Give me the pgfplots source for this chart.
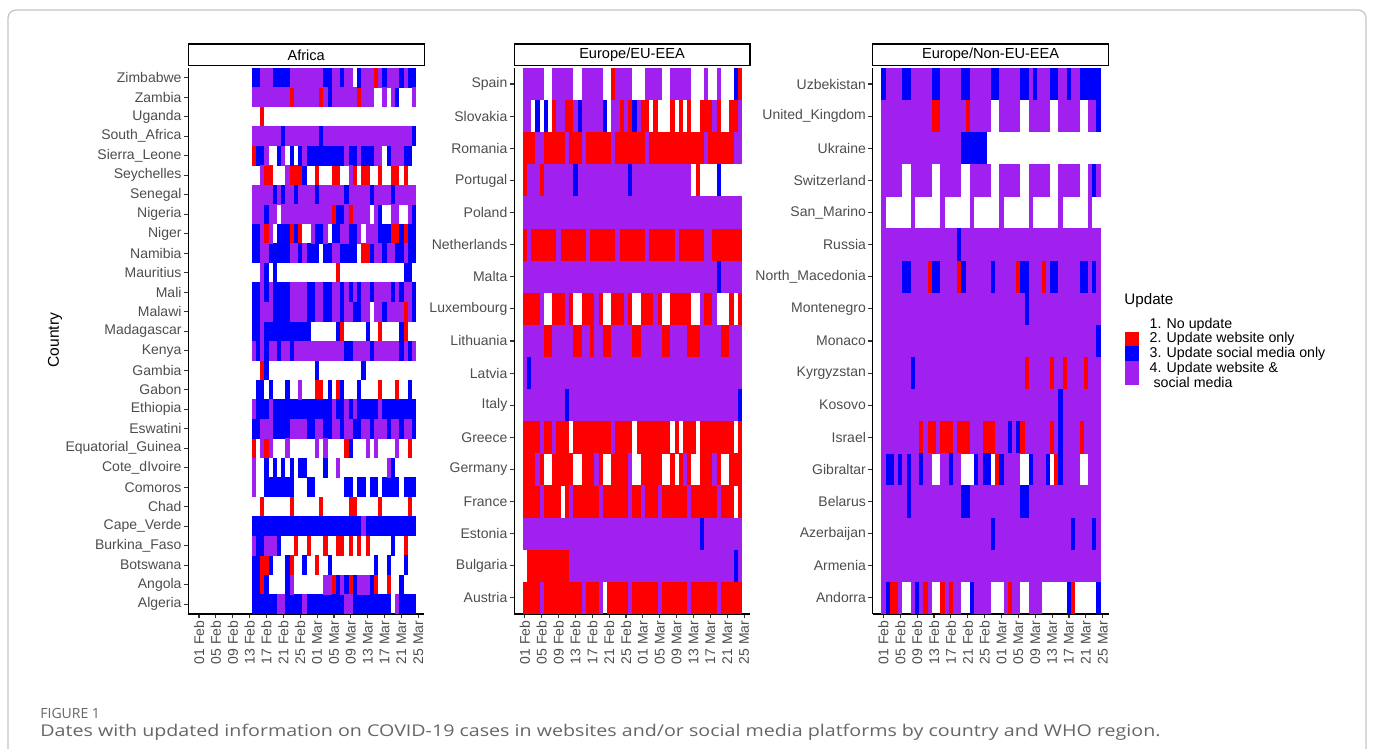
\documentclass[border=0pt]{standalone}
\usepackage{pgfplots}
\pgfplotsset{compat=1.18}
\usepackage{graphicx}
\usepackage{fontspec}
\setmainfont{Liberation Sans}
\newfontfamily\capfont{Open Sans}
\definecolor{cR}{HTML}{FF0000}
\definecolor{cB}{HTML}{0000FF}
\definecolor{cP}{HTML}{A020F0}
\definecolor{tickgray}{HTML}{4D4D4D}
\definecolor{capgray}{HTML}{666666}
\definecolor{framegray}{HTML}{C4C4C4}
\def\wA{9.9pt}
\def\wE{16.2pt}
\pgfplotsset{
  heat/.style={
    scale only axis, width=117.95pt, height=273pt,
    xmin=-2.04, xmax=53.9, ymin=0.5,
    axis x line*=bottom, axis y line*=left,
    axis line style={black, line width=0.6pt},
    xtick={0.5,4.5,...,52.5},
    xticklabels={01 Feb,05 Feb,09 Feb,13 Feb,17 Feb,21 Feb,25 Feb,01 Mar,05 Mar,09 Mar,13 Mar,17 Mar,21 Mar,25 Mar},
    x tick label style={rotate=90, anchor=east, font=\fontsize{7}{8}\selectfont, text=tickgray, inner sep=1pt},
    y tick label style={font=\fontsize{7}{8}\selectfont, text=tickgray, inner sep=1pt},
    tick align=outside, major tick length=2.2pt,
    tick style={line width=0.55pt, color=black!80},
    unbounded coords=jump,
    every axis plot/.append style={mark=none},
  },
}
\begin{document}
\begin{tikzpicture}
\useasboundingbox (0,0) rectangle (687.5pt,374.5pt);
\draw[framegray, line width=0.6pt, rounded corners=4pt] (4pt,-20pt) rectangle (683pt,369.5pt);

% ---------------- Africa ----------------
\begin{axis}[heat, at={(94.15pt,67.5pt)}, anchor=south west, ymax=28.5,
  ytick={1,...,28},
  yticklabels={Algeria,Angola,Botswana,Burkina\_Faso,Cape\_Verde,Chad,Comoros,Cote\_dIvoire,Equatorial\_Guinea,Eswatini,Ethiopia,Gabon,Gambia,Kenya,Madagascar,Malawi,Mali,Mauritius,Namibia,Niger,Nigeria,Senegal,Seychelles,Sierra\_Leone,South\_Africa,Uganda,Zambia,Zimbabwe}]
\addplot[cR, line width=\wA] coordinates {
(42,28)(43,28)(nan,nan)
(22,27)(23,27)(nan,nan)(29,27)(30,27)(nan,nan)(38,27)(39,27)(nan,nan)
(15,26)(16,26)(nan,nan)
(13,24)(14,24)(nan,nan)
(16,23)(18,23)(nan,nan)(22,23)(25,23)(nan,nan)(28,23)(29,23)(nan,nan)(32,23)(34,23)(nan,nan)(37,23)(38,23)(nan,nan)(39,23)(41,23)(nan,nan)(43,23)(44,23)(nan,nan)(46,23)(48,23)(nan,nan)(49,23)(50,23)(nan,nan)
(32,21)(33,21)(nan,nan)(36,21)(37,21)(nan,nan)
(16,20)(17,20)(nan,nan)(22,20)(23,20)(nan,nan)(24,20)(25,20)(nan,nan)(46,20)(48,20)(nan,nan)(49,20)(50,20)(nan,nan)
(39,19)(41,19)(nan,nan)
(33,18)(34,18)(nan,nan)
(49,16)(50,16)(nan,nan)
(34,15)(35,15)(nan,nan)(43,15)(44,15)(nan,nan)(49,15)(50,15)(nan,nan)
(15,13)(16,13)(nan,nan)
(28,12)(30,12)(nan,nan)(33,12)(34,12)(nan,nan)(43,12)(44,12)(nan,nan)(47,12)(48,12)(nan,nan)
(13,9)(14,9)(nan,nan)(16,9)(17,9)(nan,nan)(35,9)(36,9)(nan,nan)(50,9)(51,9)(nan,nan)
(15,6)(16,6)(nan,nan)(22,6)(23,6)(nan,nan)(29,6)(30,6)(nan,nan)(36,6)(38,6)(nan,nan)(43,6)(44,6)(nan,nan)(50,6)(51,6)(nan,nan)
(23,4)(24,4)(nan,nan)(26,4)(27,4)(nan,nan)(30,4)(31,4)(nan,nan)(33,4)(35,4)(nan,nan)(36,4)(37,4)(nan,nan)(38,4)(39,4)(nan,nan)(40,4)(41,4)(nan,nan)(49,4)(50,4)(nan,nan)
(15,3)(17,3)(nan,nan)(22,3)(23,3)(nan,nan)(28,3)(29,3)(nan,nan)
(15,2)(16,2)(nan,nan)(32,2)(33,2)(nan,nan)(36,2)(37,2)(nan,nan)(42,2)(43,2)(nan,nan)(45,2)(46,2)(nan,nan)
};
\addplot[cB, line width=\wA] coordinates {
(13,28)(15,28)(nan,nan)(18,28)(22,28)(nan,nan)(30,28)(32,28)(nan,nan)(34,28)(35,28)(nan,nan)(38,28)(39,28)(nan,nan)(44,28)(45,28)(nan,nan)(48,28)(49,28)(nan,nan)(50,28)(52,28)(nan,nan)
(31,27)(32,27)(nan,nan)(47,27)(48,27)(nan,nan)
(20,25)(21,25)(nan,nan)(29,25)(30,25)(nan,nan)(51,25)(52,25)(nan,nan)
(14,24)(16,24)(nan,nan)(19,24)(20,24)(nan,nan)(22,24)(23,24)(nan,nan)(24,24)(25,24)(nan,nan)(26,24)(35,24)(nan,nan)(36,24)(38,24)(nan,nan)(39,24)(42,24)(nan,nan)(45,24)(46,24)(nan,nan)(49,24)(51,24)(nan,nan)
(25,23)(26,23)(nan,nan)
(18,22)(19,22)(nan,nan)(20,22)(21,22)(nan,nan)(23,22)(24,22)(nan,nan)(28,22)(29,22)(nan,nan)(35,22)(36,22)(nan,nan)(41,22)(42,22)(nan,nan)(46,22)(47,22)(nan,nan)
(16,21)(17,21)(nan,nan)(33,21)(35,21)(nan,nan)(43,21)(44,21)(nan,nan)(51,21)(52,21)(nan,nan)
(13,20)(15,20)(nan,nan)(19,20)(22,20)(nan,nan)(23,20)(24,20)(nan,nan)(28,20)(30,20)(nan,nan)(32,20)(34,20)(nan,nan)(36,20)(38,20)(nan,nan)(43,20)(46,20)(nan,nan)(48,20)(49,20)(nan,nan)(50,20)(52,20)(nan,nan)
(13,19)(15,19)(nan,nan)(17,19)(22,19)(nan,nan)(24,19)(25,19)(nan,nan)(26,19)(29,19)(nan,nan)(30,19)(32,19)(nan,nan)(34,19)(38,19)(nan,nan)(41,19)(42,19)(nan,nan)(44,19)(45,19)(nan,nan)(47,19)(49,19)(nan,nan)(50,19)(52,19)(nan,nan)
(16,18)(17,18)(nan,nan)(18,18)(19,18)(nan,nan)(49,18)(51,18)(nan,nan)
(13,17)(15,17)(nan,nan)(16,17)(17,17)(nan,nan)(18,17)(22,17)(nan,nan)(26,17)(28,17)(nan,nan)(30,17)(32,17)(nan,nan)(34,17)(35,17)(nan,nan)(36,17)(37,17)(nan,nan)(38,17)(39,17)(nan,nan)(41,17)(42,17)(nan,nan)(46,17)(47,17)(nan,nan)(48,17)(49,17)(nan,nan)(51,17)(52,17)(nan,nan)
(13,16)(15,16)(nan,nan)(18,16)(22,16)(nan,nan)(26,16)(28,16)(nan,nan)(30,16)(32,16)(nan,nan)(34,16)(35,16)(nan,nan)(37,16)(39,16)(nan,nan)(44,16)(45,16)(nan,nan)(51,16)(52,16)(nan,nan)
(13,15)(15,15)(nan,nan)(16,15)(27,15)(nan,nan)(33,15)(34,15)(nan,nan)(40,15)(41,15)(nan,nan)(48,15)(49,15)(nan,nan)
(14,14)(15,14)(nan,nan)(16,14)(17,14)(nan,nan)(19,14)(20,14)(nan,nan)(22,14)(23,14)(nan,nan)(35,14)(37,14)(nan,nan)(41,14)(42,14)(nan,nan)(48,14)(49,14)(nan,nan)(50,14)(51,14)(nan,nan)
(16,13)(17,13)(nan,nan)(28,13)(29,13)(nan,nan)(39,13)(40,13)(nan,nan)
(14,12)(16,12)(nan,nan)(17,12)(18,12)(nan,nan)(21,12)(22,12)(nan,nan)(31,12)(32,12)(nan,nan)(34,12)(35,12)(nan,nan)(38,12)(39,12)(nan,nan)(50,12)(51,12)(nan,nan)
(14,11)(17,11)(nan,nan)(18,11)(32,11)(nan,nan)(33,11)(35,11)(nan,nan)(36,11)(37,11)(nan,nan)(38,11)(43,11)(nan,nan)(44,11)(52,11)(nan,nan)
(13,10)(15,10)(nan,nan)(18,10)(22,10)(nan,nan)(26,10)(28,10)(nan,nan)(30,10)(32,10)(nan,nan)(34,10)(35,10)(nan,nan)(37,10)(39,10)(nan,nan)(41,10)(42,10)(nan,nan)(45,10)(46,10)(nan,nan)(48,10)(49,10)(nan,nan)(51,10)(52,10)(nan,nan)
(36,9)(37,9)(nan,nan)
(16,8)(17,8)(nan,nan)(18,8)(19,8)(nan,nan)(20,8)(21,8)(nan,nan)(22,8)(23,8)(nan,nan)(24,8)(26,8)(nan,nan)(30,8)(31,8)(nan,nan)(46,8)(47,8)(nan,nan)
(16,7)(23,7)(nan,nan)(26,7)(28,7)(nan,nan)(35,7)(37,7)(nan,nan)(38,7)(40,7)(nan,nan)(41,7)(43,7)(nan,nan)(44,7)(48,7)(nan,nan)(49,7)(52,7)(nan,nan)
(13,5)(39,5)(nan,nan)(40,5)(52,5)(nan,nan)
(14,4)(16,4)(nan,nan)(19,4)(20,4)(nan,nan)(46,4)(47,4)(nan,nan)
(13,3)(15,3)(nan,nan)(17,3)(18,3)(nan,nan)(21,3)(22,3)(nan,nan)(25,3)(26,3)(nan,nan)(31,3)(32,3)(nan,nan)(42,3)(43,3)(nan,nan)(45,3)(46,3)(nan,nan)(49,3)(50,3)(nan,nan)
(13,2)(15,2)(nan,nan)(16,2)(17,2)(nan,nan)(21,2)(22,2)(nan,nan)(33,2)(34,2)(nan,nan)(35,2)(36,2)(nan,nan)(37,2)(38,2)(nan,nan)(41,2)(42,2)(nan,nan)(48,2)(49,2)(nan,nan)
(13,1)(19,1)(nan,nan)(21,1)(25,1)(nan,nan)(26,1)(35,1)(nan,nan)(37,1)(46,1)(nan,nan)(48,1)(52,1)(nan,nan)
};
\addplot[cP, line width=\wA] coordinates {
(15,28)(18,28)(nan,nan)(22,28)(30,28)(nan,nan)(32,28)(34,28)(nan,nan)(35,28)(37,28)(nan,nan)(39,28)(42,28)(nan,nan)(43,28)(44,28)(nan,nan)(45,28)(48,28)(nan,nan)(49,28)(50,28)(nan,nan)
(13,27)(22,27)(nan,nan)(23,27)(29,27)(nan,nan)(30,27)(31,27)(nan,nan)(32,27)(38,27)(nan,nan)(39,27)(42,27)(nan,nan)(44,27)(45,27)(nan,nan)(46,27)(47,27)(nan,nan)(51,27)(52,27)(nan,nan)
(13,25)(20,25)(nan,nan)(21,25)(29,25)(nan,nan)(30,25)(51,25)(nan,nan)
(16,24)(17,24)(nan,nan)(20,24)(21,24)(nan,nan)(25,24)(26,24)(nan,nan)(35,24)(36,24)(nan,nan)(38,24)(39,24)(nan,nan)(42,24)(44,24)(nan,nan)(46,24)(49,24)(nan,nan)
(15,23)(16,23)(nan,nan)(21,23)(22,23)(nan,nan)(36,23)(37,23)(nan,nan)
(13,22)(18,22)(nan,nan)(19,22)(20,22)(nan,nan)(21,22)(23,22)(nan,nan)(24,22)(28,22)(nan,nan)(29,22)(35,22)(nan,nan)(36,22)(41,22)(nan,nan)(42,22)(46,22)(nan,nan)(47,22)(52,22)(nan,nan)
(13,21)(16,21)(nan,nan)(17,21)(19,21)(nan,nan)(20,21)(32,21)(nan,nan)(35,21)(36,21)(nan,nan)(37,21)(41,21)(nan,nan)(42,21)(43,21)(nan,nan)(46,21)(48,21)(nan,nan)(50,21)(51,21)(nan,nan)
(15,20)(16,20)(nan,nan)(17,20)(18,20)(nan,nan)(27,20)(28,20)(nan,nan)(30,20)(31,20)(nan,nan)(34,20)(36,20)(nan,nan)(38,20)(39,20)(nan,nan)(40,20)(43,20)(nan,nan)
(15,19)(17,19)(nan,nan)(22,19)(24,19)(nan,nan)(25,19)(26,19)(nan,nan)(32,19)(34,19)(nan,nan)(42,19)(44,19)(nan,nan)(45,19)(47,19)(nan,nan)(49,19)(50,19)(nan,nan)
(15,18)(16,18)(nan,nan)
(15,17)(16,17)(nan,nan)(17,17)(18,17)(nan,nan)(22,17)(26,17)(nan,nan)(28,17)(30,17)(nan,nan)(32,17)(34,17)(nan,nan)(35,17)(36,17)(nan,nan)(37,17)(38,17)(nan,nan)(39,17)(41,17)(nan,nan)(42,17)(46,17)(nan,nan)(47,17)(48,17)(nan,nan)(49,17)(51,17)(nan,nan)
(15,16)(18,16)(nan,nan)(22,16)(26,16)(nan,nan)(28,16)(30,16)(nan,nan)(32,16)(34,16)(nan,nan)(35,16)(37,16)(nan,nan)(39,16)(41,16)(nan,nan)(42,16)(44,16)(nan,nan)(45,16)(49,16)(nan,nan)(50,16)(51,16)(nan,nan)
(15,15)(16,15)(nan,nan)
(13,14)(14,14)(nan,nan)(15,14)(16,14)(nan,nan)(17,14)(19,14)(nan,nan)(20,14)(22,14)(nan,nan)(23,14)(35,14)(nan,nan)(37,14)(41,14)(nan,nan)(42,14)(48,14)(nan,nan)(49,14)(50,14)(nan,nan)(51,14)(52,14)(nan,nan)
(24,12)(25,12)(nan,nan)
(13,11)(14,11)(nan,nan)(17,11)(18,11)(nan,nan)(32,11)(33,11)(nan,nan)(35,11)(36,11)(nan,nan)(37,11)(38,11)(nan,nan)(43,11)(44,11)(nan,nan)
(15,10)(18,10)(nan,nan)(22,10)(26,10)(nan,nan)(28,10)(30,10)(nan,nan)(32,10)(34,10)(nan,nan)(35,10)(37,10)(nan,nan)(39,10)(41,10)(nan,nan)(42,10)(45,10)(nan,nan)(46,10)(48,10)(nan,nan)(49,10)(51,10)(nan,nan)
(15,9)(16,9)(nan,nan)(17,9)(18,9)(nan,nan)(21,9)(22,9)(nan,nan)(28,9)(29,9)(nan,nan)(30,9)(31,9)(nan,nan)(40,9)(41,9)(nan,nan)(42,9)(43,9)(nan,nan)(47,9)(48,9)(nan,nan)
(13,8)(14,8)(nan,nan)(33,8)(34,8)(nan,nan)(45,8)(46,8)(nan,nan)
(13,7)(14,7)(nan,nan)
(39,5)(40,5)(nan,nan)
(13,4)(14,4)(nan,nan)(16,4)(19,4)(nan,nan)
(22,2)(23,2)(nan,nan)(30,2)(32,2)(nan,nan)(34,2)(35,2)(nan,nan)(38,2)(41,2)(nan,nan)
(19,1)(21,1)(nan,nan)(25,1)(26,1)(nan,nan)(35,1)(37,1)(nan,nan)(47,1)(48,1)(nan,nan)
};
\end{axis}

% ---------------- Europe/EU-EEA ----------------
\begin{axis}[heat, at={(257.05pt,67.5pt)}, anchor=south west, ymax=17.5,
  ytick={1,...,17},
  yticklabels={Austria,Bulgaria,Estonia,France,Germany,Greece,Italy,Latvia,Lithuania,Luxembourg,Malta,Netherlands,Poland,Portugal,Romania,Slovakia,Spain}]
\addplot[cR, line width=\wE] coordinates {
(21,17)(22,17)(nan,nan)(51,17)(52,17)(nan,nan)
(7,16)(8,16)(nan,nan)(10,16)(12,16)(nan,nan)(23,16)(24,16)(nan,nan)(25,16)(26,16)(nan,nan)(28,16)(30,16)(nan,nan)(31,16)(32,16)(nan,nan)(35,16)(36,16)(nan,nan)(37,16)(38,16)(nan,nan)(39,16)(40,16)(nan,nan)(42,16)(45,16)(nan,nan)(46,16)(47,16)(nan,nan)(49,16)(51,16)(nan,nan)
(0,15)(3,15)(nan,nan)(5,15)(10,15)(nan,nan)(11,15)(14,15)(nan,nan)(15,15)(21,15)(nan,nan)(22,15)(29,15)(nan,nan)(30,15)(43,15)(nan,nan)(44,15)(50,15)(nan,nan)
(0,14)(1,14)(nan,nan)(4,14)(5,14)(nan,nan)(41,14)(42,14)(nan,nan)
(0,12)(1,12)(nan,nan)(2,12)(8,12)(nan,nan)(9,12)(15,12)(nan,nan)(16,12)(22,12)(nan,nan)(23,12)(29,12)(nan,nan)(30,12)(36,12)(nan,nan)(37,12)(43,12)(nan,nan)(45,12)(52,12)(nan,nan)
(0,10)(4,10)(nan,nan)(7,10)(10,10)(nan,nan)(11,10)(12,10)(nan,nan)(14,10)(17,10)(nan,nan)(18,10)(19,10)(nan,nan)(21,10)(24,10)(nan,nan)(25,10)(26,10)(nan,nan)(28,10)(31,10)(nan,nan)(32,10)(33,10)(nan,nan)(35,10)(40,10)(nan,nan)(43,10)(45,10)(nan,nan)(49,10)(50,10)(nan,nan)(51,10)(52,10)(nan,nan)
(5,9)(7,9)(nan,nan)(12,9)(14,9)(nan,nan)(16,9)(17,9)(nan,nan)(19,9)(21,9)(nan,nan)(26,9)(28,9)(nan,nan)(33,9)(35,9)(nan,nan)(39,9)(42,9)(nan,nan)(47,9)(49,9)(nan,nan)
(0,6)(4,6)(nan,nan)(5,6)(7,6)(nan,nan)(8,6)(11,6)(nan,nan)(12,6)(21,6)(nan,nan)(22,6)(26,6)(nan,nan)(27,6)(35,6)(nan,nan)(36,6)(37,6)(nan,nan)(38,6)(41,6)(nan,nan)(42,6)(50,6)(nan,nan)(51,6)(52,6)(nan,nan)
(0,5)(3,5)(nan,nan)(4,5)(5,5)(nan,nan)(7,5)(12,5)(nan,nan)(14,5)(17,5)(nan,nan)(18,5)(19,5)(nan,nan)(21,5)(25,5)(nan,nan)(28,5)(33,5)(nan,nan)(35,5)(36,5)(nan,nan)(37,5)(38,5)(nan,nan)(39,5)(40,5)(nan,nan)(42,5)(45,5)(nan,nan)(46,5)(47,5)(nan,nan)(49,5)(52,5)(nan,nan)
(0,4)(4,4)(nan,nan)(5,4)(9,4)(nan,nan)(10,4)(11,4)(nan,nan)(12,4)(18,4)(nan,nan)(19,4)(25,4)(nan,nan)(26,4)(28,4)(nan,nan)(29,4)(32,4)(nan,nan)(33,4)(39,4)(nan,nan)(40,4)(46,4)(nan,nan)(47,4)(50,4)(nan,nan)(51,4)(52,4)(nan,nan)
(1,2)(11,2)(nan,nan)
(0,1)(4,1)(nan,nan)(5,1)(14,1)(nan,nan)(15,1)(18,1)(nan,nan)(20,1)(25,1)(nan,nan)(26,1)(32,1)(nan,nan)(33,1)(39,1)(nan,nan)(40,1)(46,1)(nan,nan)(47,1)(52,1)(nan,nan)
};
\addplot[cB, line width=\wE] coordinates {
(50,17)(51,17)(nan,nan)
(3,16)(4,16)(nan,nan)(5,16)(6,16)(nan,nan)(13,16)(14,16)(nan,nan)(19,16)(20,16)(nan,nan)(26,16)(27,16)(nan,nan)
(12,14)(13,14)(nan,nan)(25,14)(26,14)(nan,nan)(46,14)(47,14)(nan,nan)
(46,11)(47,11)(nan,nan)
(1,8)(2,8)(nan,nan)
(10,7)(11,7)(nan,nan)(51,7)(52,7)(nan,nan)
(42,3)(43,3)(nan,nan)
(50,2)(51,2)(nan,nan)
};
\addplot[cP, line width=\wE] coordinates {
(0,17)(5,17)(nan,nan)(7,17)(12,17)(nan,nan)(14,17)(19,17)(nan,nan)(22,17)(26,17)(nan,nan)(29,17)(33,17)(nan,nan)(35,17)(40,17)(nan,nan)(43,17)(44,17)(nan,nan)(46,17)(47,17)(nan,nan)
(0,16)(2,16)(nan,nan)(8,16)(10,16)(nan,nan)(12,16)(13,16)(nan,nan)(14,16)(19,16)(nan,nan)(21,16)(23,16)(nan,nan)(24,16)(25,16)(nan,nan)(27,16)(28,16)(nan,nan)(45,16)(46,16)(nan,nan)(51,16)(52,16)(nan,nan)
(3,15)(5,15)(nan,nan)(10,15)(11,15)(nan,nan)(14,15)(15,15)(nan,nan)(21,15)(22,15)(nan,nan)(29,15)(30,15)(nan,nan)(43,15)(44,15)(nan,nan)(50,15)(52,15)(nan,nan)
(1,14)(4,14)(nan,nan)(5,14)(12,14)(nan,nan)(13,14)(25,14)(nan,nan)(26,14)(40,14)(nan,nan)
(0,13)(52,13)(nan,nan)
(1,12)(2,12)(nan,nan)(8,12)(9,12)(nan,nan)(15,12)(16,12)(nan,nan)(22,12)(23,12)(nan,nan)(29,12)(30,12)(nan,nan)(36,12)(37,12)(nan,nan)(43,12)(45,12)(nan,nan)
(0,11)(46,11)(nan,nan)(47,11)(52,11)(nan,nan)
(4,10)(5,10)(nan,nan)(10,10)(11,10)(nan,nan)(17,10)(18,10)(nan,nan)(24,10)(25,10)(nan,nan)(31,10)(32,10)(nan,nan)(42,10)(43,10)(nan,nan)(45,10)(46,10)(nan,nan)
(0,9)(5,9)(nan,nan)(7,9)(12,9)(nan,nan)(14,9)(16,9)(nan,nan)(17,9)(19,9)(nan,nan)(21,9)(26,9)(nan,nan)(28,9)(33,9)(nan,nan)(35,9)(39,9)(nan,nan)(42,9)(47,9)(nan,nan)(49,9)(52,9)(nan,nan)
(0,8)(1,8)(nan,nan)(2,8)(52,8)(nan,nan)
(0,7)(10,7)(nan,nan)(11,7)(51,7)(nan,nan)
(4,6)(5,6)(nan,nan)(7,6)(8,6)(nan,nan)(21,6)(22,6)(nan,nan)
(3,5)(4,5)(nan,nan)(17,5)(18,5)(nan,nan)(25,5)(26,5)(nan,nan)(38,5)(39,5)(nan,nan)(45,5)(46,5)(nan,nan)
(4,4)(5,4)(nan,nan)(11,4)(12,4)(nan,nan)(18,4)(19,4)(nan,nan)(25,4)(26,4)(nan,nan)(28,4)(29,4)(nan,nan)(32,4)(33,4)(nan,nan)(39,4)(40,4)(nan,nan)(46,4)(47,4)(nan,nan)
(0,3)(42,3)(nan,nan)(43,3)(52,3)(nan,nan)
(11,2)(50,2)(nan,nan)(51,2)(52,2)(nan,nan)
(4,1)(5,1)(nan,nan)(14,1)(15,1)(nan,nan)(18,1)(19,1)(nan,nan)(25,1)(26,1)(nan,nan)(32,1)(33,1)(nan,nan)(39,1)(40,1)(nan,nan)(46,1)(47,1)(nan,nan)
};
\end{axis}

% ---------------- Europe/Non-EU-EEA ----------------
\begin{axis}[heat, at={(436.35pt,67.5pt)}, anchor=south west, ymax=17.5,
  ytick={1,...,17},
  yticklabels={Andorra,Armenia,Azerbaijan,Belarus,Gibraltar,Israel,Kosovo,Kyrgyzstan,Monaco,Montenegro,North\_Macedonia,Russia,San\_Marino,Switzerland,Ukraine,United\_Kingdom,Uzbekistan}]
\addplot[cR, line width=\wE] coordinates {
(12,16)(14,16)(nan,nan)(20,16)(21,16)(nan,nan)
(11,11)(12,11)(nan,nan)(18,11)(19,11)(nan,nan)(32,11)(33,11)(nan,nan)(38,11)(39,11)(nan,nan)
(34,8)(35,8)(nan,nan)(40,8)(41,8)(nan,nan)(43,8)(44,8)(nan,nan)(48,8)(49,8)(nan,nan)
(9,6)(10,6)(nan,nan)(11,6)(13,6)(nan,nan)(14,6)(17,6)(nan,nan)(18,6)(21,6)(nan,nan)(24,6)(27,6)(nan,nan)(33,6)(34,6)(nan,nan)(40,6)(41,6)(nan,nan)(47,6)(48,6)(nan,nan)
(27,5)(28,5)(nan,nan)(41,5)(42,5)(nan,nan)
(2,1)(4,1)(nan,nan)(10,1)(11,1)(nan,nan)(14,1)(15,1)(nan,nan)(16,1)(17,1)(nan,nan)(30,1)(31,1)(nan,nan)(45,1)(46,1)(nan,nan)
};
\addplot[cB, line width=\wE] coordinates {
(0,17)(1,17)(nan,nan)(5,17)(7,17)(nan,nan)(12,17)(14,17)(nan,nan)(19,17)(21,17)(nan,nan)(26,17)(28,17)(nan,nan)(33,17)(35,17)(nan,nan)(36,17)(37,17)(nan,nan)(40,17)(42,17)(nan,nan)(44,17)(45,17)(nan,nan)(47,17)(52,17)(nan,nan)
(51,16)(52,16)(nan,nan)
(19,15)(25,15)(nan,nan)
(50,14)(51,14)(nan,nan)
(18,12)(19,12)(nan,nan)
(5,11)(7,11)(nan,nan)(12,11)(14,11)(nan,nan)(19,11)(20,11)(nan,nan)(26,11)(27,11)(nan,nan)(33,11)(35,11)(nan,nan)(40,11)(42,11)(nan,nan)(47,11)(49,11)(nan,nan)(50,11)(51,11)(nan,nan)
(34,10)(35,10)(nan,nan)
(51,9)(52,9)(nan,nan)
(7,8)(8,8)(nan,nan)
(42,7)(43,7)(nan,nan)
(30,6)(31,6)(nan,nan)(32,6)(33,6)(nan,nan)(42,6)(43,6)(nan,nan)
(1,5)(3,5)(nan,nan)(4,5)(5,5)(nan,nan)(6,5)(7,5)(nan,nan)(9,5)(10,5)(nan,nan)(16,5)(17,5)(nan,nan)(22,5)(23,5)(nan,nan)(24,5)(26,5)(nan,nan)(28,5)(29,5)(nan,nan)(35,5)(36,5)(nan,nan)(39,5)(40,5)(nan,nan)(42,5)(43,5)(nan,nan)
(6,4)(7,4)(nan,nan)(19,4)(21,4)(nan,nan)(33,4)(35,4)(nan,nan)
(26,3)(27,3)(nan,nan)(45,3)(46,3)(nan,nan)(50,3)(51,3)(nan,nan)
(1,1)(2,1)(nan,nan)(8,1)(9,1)(nan,nan)(21,1)(22,1)(nan,nan)(44,1)(45,1)(nan,nan)(51,1)(52,1)(nan,nan)
};
\addplot[cP, line width=\wE] coordinates {
(1,17)(5,17)(nan,nan)(7,17)(12,17)(nan,nan)(14,17)(19,17)(nan,nan)(21,17)(26,17)(nan,nan)(28,17)(33,17)(nan,nan)(35,17)(36,17)(nan,nan)(37,17)(40,17)(nan,nan)(42,17)(44,17)(nan,nan)(45,17)(47,17)(nan,nan)
(0,16)(12,16)(nan,nan)(14,16)(20,16)(nan,nan)(21,16)(26,16)(nan,nan)(28,16)(33,16)(nan,nan)(35,16)(40,16)(nan,nan)(42,16)(47,16)(nan,nan)(49,16)(51,16)(nan,nan)
(0,15)(19,15)(nan,nan)
(0,14)(5,14)(nan,nan)(7,14)(12,14)(nan,nan)(14,14)(19,14)(nan,nan)(21,14)(26,14)(nan,nan)(28,14)(33,14)(nan,nan)(35,14)(40,14)(nan,nan)(42,14)(47,14)(nan,nan)(49,14)(50,14)(nan,nan)(51,14)(52,14)(nan,nan)
(0,13)(1,13)(nan,nan)(7,13)(8,13)(nan,nan)(14,13)(15,13)(nan,nan)(21,13)(22,13)(nan,nan)(28,13)(29,13)(nan,nan)(35,13)(36,13)(nan,nan)(42,13)(43,13)(nan,nan)(49,13)(50,13)(nan,nan)
(0,12)(18,12)(nan,nan)(19,12)(52,12)(nan,nan)
(0,11)(5,11)(nan,nan)(7,11)(11,11)(nan,nan)(14,11)(18,11)(nan,nan)(20,11)(26,11)(nan,nan)(27,11)(32,11)(nan,nan)(35,11)(38,11)(nan,nan)(39,11)(40,11)(nan,nan)(42,11)(47,11)(nan,nan)(49,11)(50,11)(nan,nan)(51,11)(52,11)(nan,nan)
(0,10)(34,10)(nan,nan)(35,10)(52,10)(nan,nan)
(0,9)(51,9)(nan,nan)
(0,8)(7,8)(nan,nan)(8,8)(34,8)(nan,nan)(35,8)(40,8)(nan,nan)(41,8)(43,8)(nan,nan)(44,8)(48,8)(nan,nan)(49,8)(52,8)(nan,nan)
(0,7)(42,7)(nan,nan)(43,7)(52,7)(nan,nan)
(0,6)(9,6)(nan,nan)(10,6)(11,6)(nan,nan)(13,6)(14,6)(nan,nan)(17,6)(18,6)(nan,nan)(21,6)(24,6)(nan,nan)(27,6)(30,6)(nan,nan)(31,6)(32,6)(nan,nan)(34,6)(40,6)(nan,nan)(41,6)(42,6)(nan,nan)(43,6)(47,6)(nan,nan)(48,6)(52,6)(nan,nan)
(0,5)(1,5)(nan,nan)(3,5)(4,5)(nan,nan)(5,5)(6,5)(nan,nan)(7,5)(9,5)(nan,nan)(10,5)(12,5)(nan,nan)(14,5)(16,5)(nan,nan)(17,5)(19,5)(nan,nan)(23,5)(24,5)(nan,nan)(29,5)(33,5)(nan,nan)(36,5)(39,5)(nan,nan)(43,5)(47,5)(nan,nan)(49,5)(52,5)(nan,nan)
(0,4)(6,4)(nan,nan)(7,4)(19,4)(nan,nan)(21,4)(33,4)(nan,nan)(35,4)(52,4)(nan,nan)
(0,3)(26,3)(nan,nan)(27,3)(45,3)(nan,nan)(46,3)(50,3)(nan,nan)(51,3)(52,3)(nan,nan)
(0,2)(52,2)(nan,nan)
(0,1)(1,1)(nan,nan)(4,1)(5,1)(nan,nan)(7,1)(8,1)(nan,nan)(9,1)(10,1)(nan,nan)(11,1)(12,1)(nan,nan)(15,1)(16,1)(nan,nan)(17,1)(19,1)(nan,nan)(22,1)(26,1)(nan,nan)(29,1)(30,1)(nan,nan)(31,1)(33,1)(nan,nan)(35,1)(38,1)(nan,nan)
};
\end{axis}

% strip headers
\begin{scope}[line width=0.6pt]
\draw[fill=white] (94.15pt,341.75pt) rectangle (212.1pt,352.5pt);
\node[font=\fontsize{7.3}{8}\selectfont, inner sep=0pt] at (153.1pt,347.1pt) {Africa};
\draw[fill=white] (257.05pt,341.75pt) rectangle (375pt,352.5pt);
\node[font=\fontsize{7.3}{8}\selectfont, inner sep=0pt] at (316pt,347.1pt) {Europe/EU-EEA};
\draw[fill=white] (436.35pt,341.75pt) rectangle (554.3pt,352.5pt);
\node[font=\fontsize{7.3}{8}\selectfont, inner sep=0pt] at (495.3pt,347.1pt) {Europe/Non-EU-EEA};
\end{scope}

% y axis title
\node[rotate=90, font=\fontsize{7.8}{9}\selectfont, inner sep=0pt] at (27.5pt,204.5pt) {Country};

% legend
\node[anchor=base west, font=\fontsize{7.6}{9}\selectfont, inner sep=0pt] at (562pt,222pt) {Update};
\fill[cR] (562.5pt,201.5pt) rectangle (569.6pt,208.65pt);
\fill[cB] (562.5pt,194pt) rectangle (569.6pt,201.5pt);
\fill[cP] (562.5pt,182pt) rectangle (569.6pt,194pt);
\begin{scope}[every node/.style={anchor=base west, font=\fontsize{7.1}{8}\selectfont, inner sep=0pt}]
\node at (574.6pt,210.2pt) {1. No update};
\node at (574.6pt,203.3pt) {2. Update website only};
\node at (574.6pt,195.5pt) {3. Update social media only};
\node at (574.6pt,188pt) {4. Update website \&};
\node at (574.6pt,180.5pt) {\hspace{0.28em}social media};
\end{scope}

% caption
\node[anchor=base west, font=\capfont\fontsize{7}{8}\selectfont, text=capgray, inner sep=0pt] at (20pt,15.4pt) {FIGURE 1};
\node[anchor=base west, text=capgray, inner sep=0pt] at (20pt,6.1pt) {\resizebox{560pt}{6.2pt}{\capfont Dates with updated information on COVID-19 cases in websites and/or social media platforms by country and WHO region.}};
\end{tikzpicture}
\end{document}
